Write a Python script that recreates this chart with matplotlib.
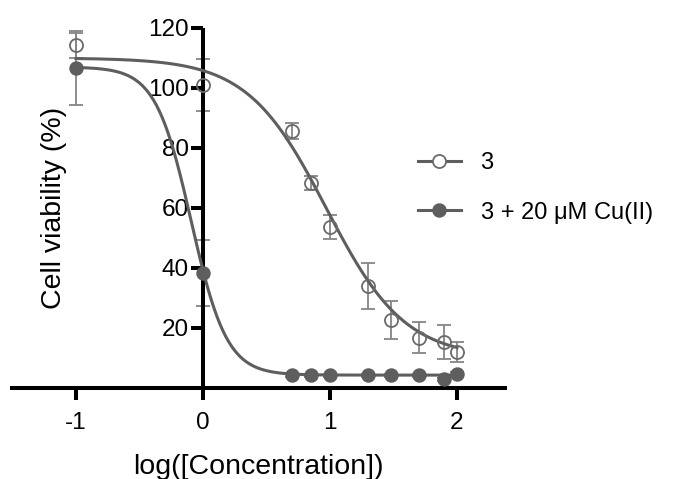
import numpy as np
import matplotlib
matplotlib.use("Agg")
import matplotlib.pyplot as plt
from matplotlib.lines import Line2D

plt.rcParams['font.family'] = ['Liberation Sans', 'DejaVu Sans']

# ---- data ----
log_conc_open = [-1, 0, 0.7, 0.85, 1.0, 1.3, 1.48, 1.7, 1.9, 2.0]
viab_open = [114.3, 101.0, 85.6, 68.4, 53.8, 34.0, 22.7, 16.8, 15.4, 12.1]
err_open = [4.2, 8.6, 2.6, 2.3, 4.0, 7.7, 6.3, 5.2, 5.6, 3.4]

log_conc_cu = [-1, 0, 0.7, 0.85, 1.0, 1.3, 1.48, 1.7, 1.9, 2.0]
viab_cu = [106.6, 38.4, 4.3, 4.3, 4.3, 4.3, 4.3, 4.3, 2.9, 4.7]
err_cu = [12.3, 11.0, 0.5, 0.5, 0.5, 0.5, 0.5, 0.5, 0.5, 0.5]

# Hill fit parameters (top, bottom, logIC50, slope)
fit_open = (110.0, 10.0, 0.97, 1.4)
fit_cu = (107.0, 4.3, -0.093, 3.1)

labels = ["3", "3 + 20 \u03bcM Cu(II)"]
x_ticks = [-1, 0, 1, 2]
y_ticks = [20, 40, 60, 80, 100, 120]


def hill(x, top, bottom, c, h):
    return bottom + (top - bottom) / (1 + 10 ** ((x - c) * h))


line_col = '#5e5e5e'
err_col = '#858585'
open_col = '#6a6a6a'

fig = plt.figure(figsize=(6.82, 4.79), dpi=100)
ax = fig.add_axes([12 / 682, 91 / 479, 493 / 682, 360 / 479])

xx = np.linspace(-1, 2, 400)
ax.plot(xx, hill(xx, *fit_open), color=line_col, lw=2.2, zorder=3)
ax.plot(xx, hill(xx, *fit_cu), color=line_col, lw=2.2, zorder=3)

ax.errorbar(log_conc_open, viab_open, yerr=err_open, fmt='none',
            ecolor=err_col, elinewidth=1.3, capsize=4.7, capthick=1.3, zorder=2)
ax.errorbar(log_conc_cu, viab_cu, yerr=err_cu, fmt='none',
            ecolor=err_col, elinewidth=1.3, capsize=4.7, capthick=1.3, zorder=2)

ax.plot(log_conc_open, viab_open, 'o', ms=9.4, mfc='none', mec=open_col,
        mew=1.3, zorder=4)
ax.plot(log_conc_cu, viab_cu, 'o', ms=9.4, mfc=line_col, mec=line_col,
        mew=1.0, zorder=4)

ax.set_xlim(-1.504, 2.378)
ax.set_ylim(0, 120)

for s in ['top', 'right']:
    ax.spines[s].set_visible(False)
ax.spines['left'].set_position(('data', 0))
ax.spines['left'].set_linewidth(2.9)
ax.spines['bottom'].set_linewidth(2.9)
ax.spines['left'].set_capstyle('butt')

ax.set_xticks(x_ticks)
ax.set_xticklabels([str(t) for t in x_ticks])
ax.set_yticks(y_ticks)
ax.set_yticklabels([str(t) for t in y_ticks])
ax.tick_params(axis='both', direction='out', length=8.6, width=2.9,
               labelsize=17.5, color='black')
ax.tick_params(axis='y', pad=1.5)
ax.tick_params(axis='x', pad=9)

ax.set_xlabel("log([Concentration])", fontsize=20.5)
ax.xaxis.set_label_coords(0.5, -0.22)
ax.xaxis.label.set_va('center')
ax.set_ylabel("Cell viability (%)", fontsize=20.5)
ax.yaxis.set_label_coords(0.085, 0.5)
ax.yaxis.label.set_va('center')

handles = [
    Line2D([], [], color=line_col, lw=2.2, marker='o', ms=9.4, mfc='white',
           mec=open_col, mew=1.3),
    Line2D([], [], color=line_col, lw=2.2, marker='o', ms=9.4, mfc=line_col,
           mec=line_col),
]
fig.legend(handles, labels, loc='center left',
           bbox_to_anchor=(418 / 682, (479 - 188) / 479), frameon=False,
           fontsize=17, handlelength=1.8, handletextpad=0.85,
           labelspacing=1.15, borderpad=0, borderaxespad=0)

fig.savefig('out.png', dpi=100)
